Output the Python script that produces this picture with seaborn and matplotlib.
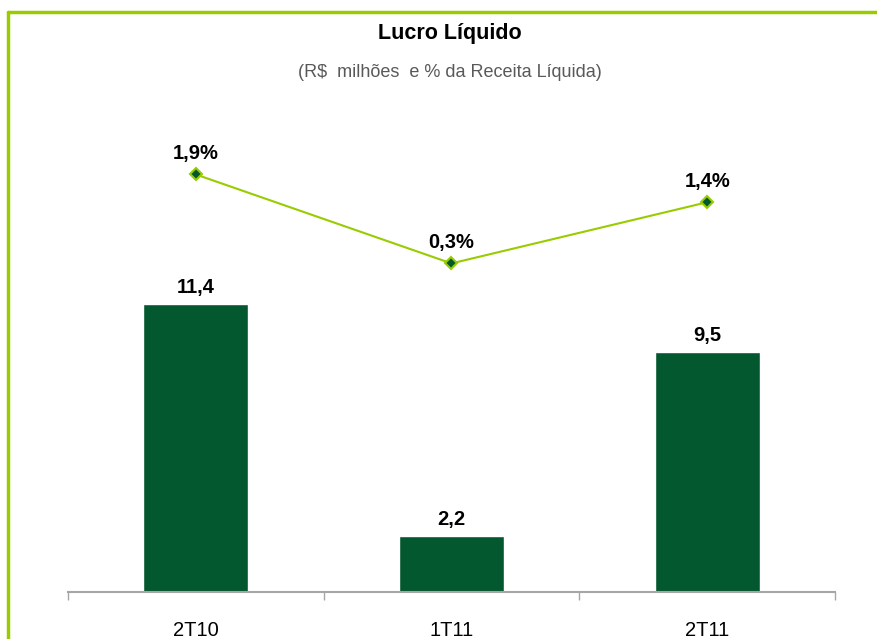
import matplotlib
matplotlib.use("Agg")
import matplotlib.pyplot as plt
import seaborn as sns
import pandas as pd
from matplotlib.lines import Line2D

periodos = ["2T10", "1T11", "2T11"]
lucro = [11.4, 2.2, 9.5]
margem = [1.9, 0.3, 1.4]
lucro_labels = ["11,4", "2,2", "9,5"]
margem_labels = ["1,9%", "0,3%", "1,4%"]

df = pd.DataFrame({"periodo": periodos, "lucro": lucro, "margem": margem})

sns.set_theme(style="white")
plt.rcParams["font.family"] = ["Liberation Sans", "DejaVu Sans"]

verde_escuro = "#04582f"
verde_lima = "#99cc00"

fig = plt.figure(figsize=(8.77, 6.39), dpi=100)
ax = fig.add_axes([0.0775, 0.0736, 0.8746, 0.723])

sns.barplot(data=df, x="periodo", y="lucro", color=verde_escuro, saturation=1,
            width=0.41, ax=ax)
ax.set_ylim(0, 18.26)

for i, txt in enumerate(lucro_labels):
    ax.annotate(txt, (i, lucro[i]), xytext=(0, 5), textcoords="offset points",
                ha="center", va="bottom", fontsize=14.5, fontweight="bold", color="black")

ax2 = ax.twinx()
sns.pointplot(data=df, x="periodo", y="margem", color=verde_lima, markers="D",
              linestyles="-", errorbar=None, ax=ax2, markersize=6,
              markerfacecolor=verde_escuro, markeredgecolor=verde_lima,
              markeredgewidth=1.5, linewidth=1.5)
ax2.set_ylim(-5.61, 2.70)

for i, txt in enumerate(margem_labels):
    ax2.annotate(txt, (i, margem[i]), xytext=(0, 8), textcoords="offset points",
                 ha="center", va="bottom", fontsize=14.5, fontweight="bold", color="black")

for a in (ax, ax2):
    for s in a.spines.values():
        s.set_visible(False)
    a.set_yticks([])
    a.set_ylabel("")
    a.set_xlabel("")
    a.patch.set_alpha(0)

ax.spines["bottom"].set_visible(True)
ax.spines["bottom"].set_color("#a6a6a6")
ax.spines["bottom"].set_linewidth(1.5)
ax.set_xlim(-0.5, 2.5)
ax.set_xticks([0, 1, 2])
ax.set_xticklabels(periodos, fontsize=14.5)
ax.tick_params(axis="x", which="major", length=0, pad=21, labelcolor="black")
ax.set_xticks([-0.5, 0.5, 1.5, 2.5], minor=True)
ax.tick_params(axis="x", which="minor", length=6, width=1, color="#a6a6a6",
               bottom=True, direction="out")

fig.text(0.513, 0.947, "Lucro Líquido", ha="center", va="center",
         fontsize=15.5, fontweight="bold", color="black")
fig.text(0.513, 0.887, "(R$  milhões  e % da Receita Líquida)", ha="center",
         va="center", fontsize=13, color="#595959")

fig.add_artist(Line2D([0.0095, 1.0], [0.982, 0.982], color=verde_lima,
                      linewidth=2.5, transform=fig.transFigure))
fig.add_artist(Line2D([0.0095, 0.0095], [0.0, 0.982], color=verde_lima,
                      linewidth=2.5, transform=fig.transFigure))

fig.savefig("out.png", dpi=100)
